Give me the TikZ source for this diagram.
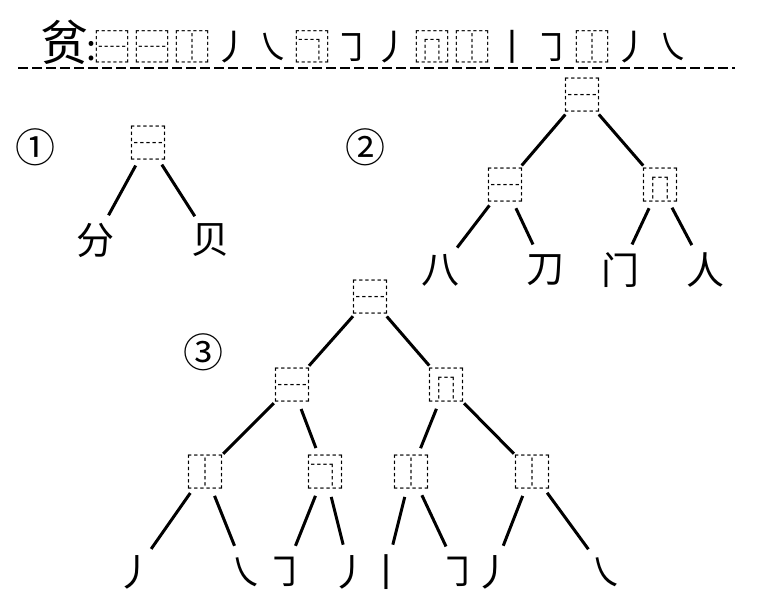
\documentclass[tikz,border=0pt]{standalone}
\usepackage{fontspec}
\newfontfamily\cjk{Noto Sans CJK SC}
\begin{document}
\begin{tikzpicture}[x=1pt,y=-1pt,
  t/.style={circle,inner sep=0pt,minimum size=50pt,font=\cjk\fontsize{38}{38}\selectfont},
  lf/.style={circle,inner sep=0pt,minimum size=56pt,font=\cjk\fontsize{38}{38}\selectfont},
  num/.style={font=\cjk\fontsize{40}{40}\selectfont},
  e/.style={line width=3pt}]
\useasboundingbox (0,0) rectangle (778,608);
\node[anchor=west,inner sep=0] (title) at (40,42) {\cjk\fontsize{48}{48}\selectfont 贫\fontsize{36}{36}\selectfont\kern-2pt:\kern-2pt⿱\kern4pt⿱\kern4pt⿰\kern4pt丿\kern4pt㇏\kern4pt⿹\kern4pt㇆\kern4pt丿\kern4pt⿵\kern4pt⿰\kern4pt丨\kern4pt㇆\kern4pt⿰\kern4pt丿\kern4pt㇏};
\coordinate (d1) at (18,68); \coordinate (d2) at (735,68);
\draw[line width=1.5pt,dash pattern=on 10pt off 4pt] (d1) -- (d2);
% tree 1
\node[num] (n1) at (35,147) {①};
\node[t] (a) at (148,143) {⿱};
\node[lf] (a1) at (95,240) {分};
\node[lf] (a2) at (210,240) {贝};
\draw[e] (a) -- (a1); \draw[e] (a) -- (a2);
% tree 2
\node[num] (n2) at (365,147) {②};
\node[t] (b) at (582,95) {⿱};
\node[t] (b1) at (505,185) {⿱};
\node[t] (b2) at (660,185) {⿵};
\node[lf] (b11) at (440,270) {八};
\node[lf] (b12) at (545,270) {刀};
\node[lf] (b21) at (620,270) {门};
\node[lf] (b22) at (705,270) {人};
\foreach \p/\c in {b/b1,b/b2,b1/b11,b1/b12,b2/b21,b2/b22} \draw[e] (\p) -- (\c);
% tree 3
\node[num] (n3) at (203,352) {③};
\node[t] (c) at (370,297) {⿱};
\node[t] (c1) at (292,385) {⿱};
\node[t] (c2) at (446,385) {⿵};
\node[t] (c11) at (205,472) {⿰};
\node[t] (c12) at (325,472) {⿹};
\node[t] (c21) at (411,472) {⿰};
\node[t] (c22) at (532,472) {⿰};
\node[lf] (l1) at (135,572) {丿};
\node[lf] (l2) at (245,572) {㇏};
\node[lf] (l3) at (285,572) {㇆};
\node[lf] (l4) at (350,572) {丿};
\node[lf] (l5) at (386,572) {丨};
\node[lf] (l6) at (458,572) {㇆};
\node[lf] (l7) at (493,572) {丿};
\node[lf] (l8) at (605,572) {㇏};
\foreach \p/\c in {c/c1,c/c2,c1/c11,c1/c12,c2/c21,c2/c22,c11/l1,c11/l2,c12/l3,c12/l4,c21/l5,c21/l6,c22/l7,c22/l8} \draw[e] (\p) -- (\c);
\end{tikzpicture}
\end{document}
